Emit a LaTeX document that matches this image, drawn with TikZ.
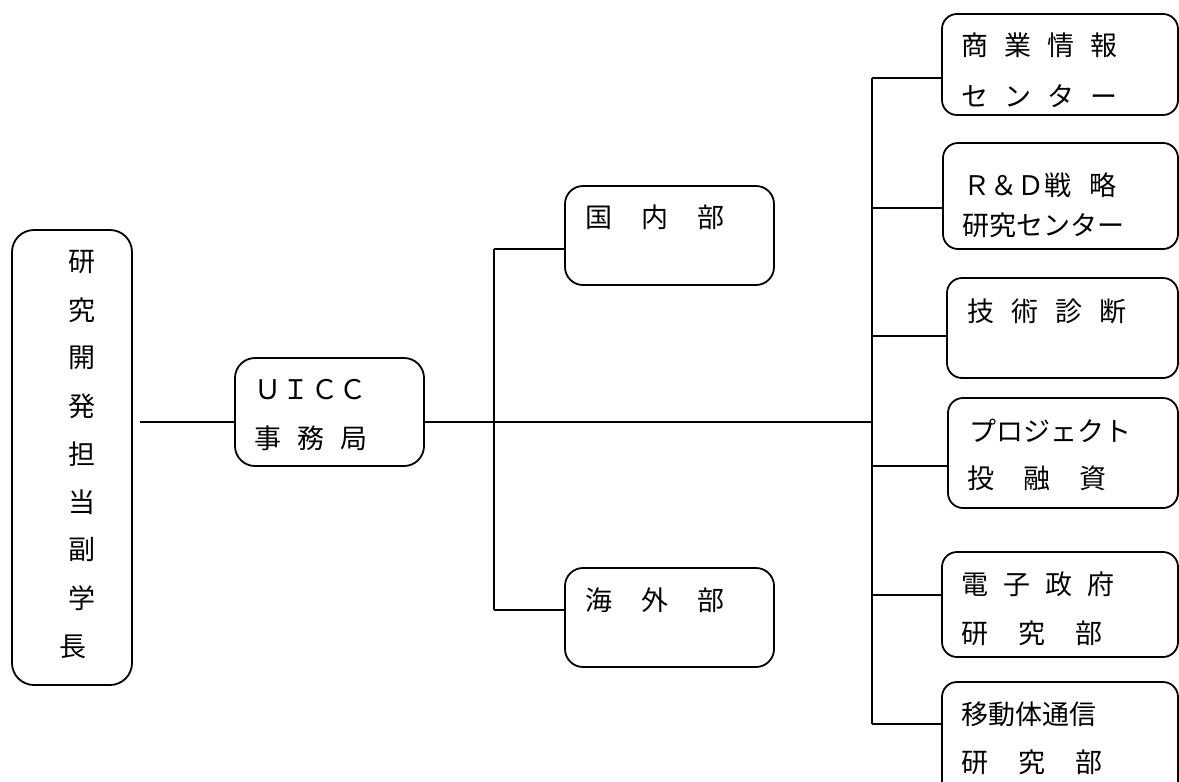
\documentclass[tikz,border=0pt]{standalone}
\usepackage{fontspec}
\newfontfamily\jp{Noto Sans CJK JP}
\newcommand\gp[1]{\hspace{#1pt}}
\begin{document}
\begin{tikzpicture}[x=1pt,y=-1pt,
  unitbox/.style={draw, line width=1.8pt, rounded corners=#1, inner sep=0pt, outer sep=0pt},
  unitbox/.default=15pt,
  lbl/.style={anchor=west, inner sep=0pt, font=\jp\fontsize{27}{30}\selectfont},
  vch/.style={anchor=center, inner sep=0pt, font=\jp\fontsize{27}{30}\selectfont},
  wire/.style={line width=1.8pt}
]
\useasboundingbox (0,0) rectangle (1179,782);
\clip (0,0) rectangle (1179,782);

% --- boxes ---
\node[unitbox=22pt, minimum width=120pt, minimum height=455pt] (vp) at (72,457.5) {};
\node[unitbox=20pt, minimum width=189pt, minimum height=108pt] (uicc) at (329.5,412) {};
\node[unitbox=18pt, minimum width=209pt, minimum height=99pt] (dom) at (669.5,235.5) {};
\node[unitbox=18pt, minimum width=209pt, minimum height=99pt] (ovs) at (669.5,617.5) {};
\node[unitbox, minimum width=236pt, minimum height=101pt] (r1) at (1060,64.5) {};
\node[unitbox, minimum width=235pt, minimum height=106pt] (r2) at (1060.5,196) {};
\node[unitbox, minimum width=231pt, minimum height=100pt] (r3) at (1062.5,328) {};
\node[unitbox, minimum width=230pt, minimum height=110pt] (r4) at (1063,453) {};
\node[unitbox, minimum width=236pt, minimum height=105pt] (r5) at (1060,604.5) {};
\node[unitbox, minimum width=236pt, minimum height=118pt] (r6) at (1060,741) {};

% --- vertical title ---
\foreach \c [count=\i] in {研,究,開,発,担,当,副,学}
  \node[vch] (vp\i) at (81.7,{262+48*(\i-1)}) {\c};
\node[vch] (vp9) at (72.5,647) {長};

% --- labels ---
\node[lbl] (uiccA) at (254,390) {Ｕ\gp{1.5}Ｉ\gp{1.5}Ｃ\gp{1.5}Ｃ};
\node[lbl] (uiccB) at (254,438) {事\gp{16}務\gp{16}局};
\node[lbl] (domA) at (585,217) {国\gp{29}内\gp{29}部};
\node[lbl] (ovsA) at (585,600) {海\gp{29}外\gp{29}部};
\node[lbl] (r1a) at (961,45) {商\gp{16}業\gp{16}情\gp{16}報};
\node[lbl] (r1b) at (961,96) {セ\gp{16}ン\gp{16}タ\gp{16}ー};
\node[lbl] (r2a) at (963,185) {Ｒ＆Ｄ戦\gp{18}略};
\node[lbl] (r2b) at (962,225) {研究センター};
\node[lbl] (r3a) at (967,311) {技\gp{17}術\gp{17}診\gp{17}断};
\node[lbl] (r4a) at (969,431) {プロジェクト};
\node[lbl] (r4b) at (967,478) {投\gp{29}融\gp{29}資};
\node[lbl] (r5a) at (961,584) {電\gp{15}子\gp{15}政\gp{15}府};
\node[lbl] (r5b) at (961,633) {研\gp{30}究\gp{30}部};
\node[lbl] (r6a) at (961,714) {移動体通信};
\node[lbl] (r6b) at (961,762) {研\gp{30}究\gp{30}部};

% --- junction points ---
\coordinate (busA) at (494,422);
\coordinate (busB) at (872,422);
\coordinate (jA1) at (494,249);
\coordinate (jA2) at (494,610);
\coordinate (jB1) at (872,78);
\coordinate (jB2) at (872,208);
\coordinate (jB3) at (872,336);
\coordinate (jB4) at (872,466);
\coordinate (jB5) at (872,595);
\coordinate (jB6) at (872,724);
\coordinate (vpout) at (140,422);

% --- connectors ---
\draw[wire] (vpout) -- (uicc.west |- vpout);
\draw[wire] (uicc.east |- busA) -- (busB);
\draw[wire] (jA1) -- (jA2);
\draw[wire] (jA1) -- (dom.west |- jA1);
\draw[wire] (jA2) -- (ovs.west |- jA2);
\draw[wire] (jB1) -- (jB6);
\draw[wire] (jB1) -- (r1.west |- jB1);
\draw[wire] (jB2) -- (r2.west |- jB2);
\draw[wire] (jB3) -- (r3.west |- jB3);
\draw[wire] (jB4) -- (r4.west |- jB4);
\draw[wire] (jB5) -- (r5.west |- jB5);
\draw[wire] (jB6) -- (r6.west |- jB6);
\end{tikzpicture}
\end{document}
